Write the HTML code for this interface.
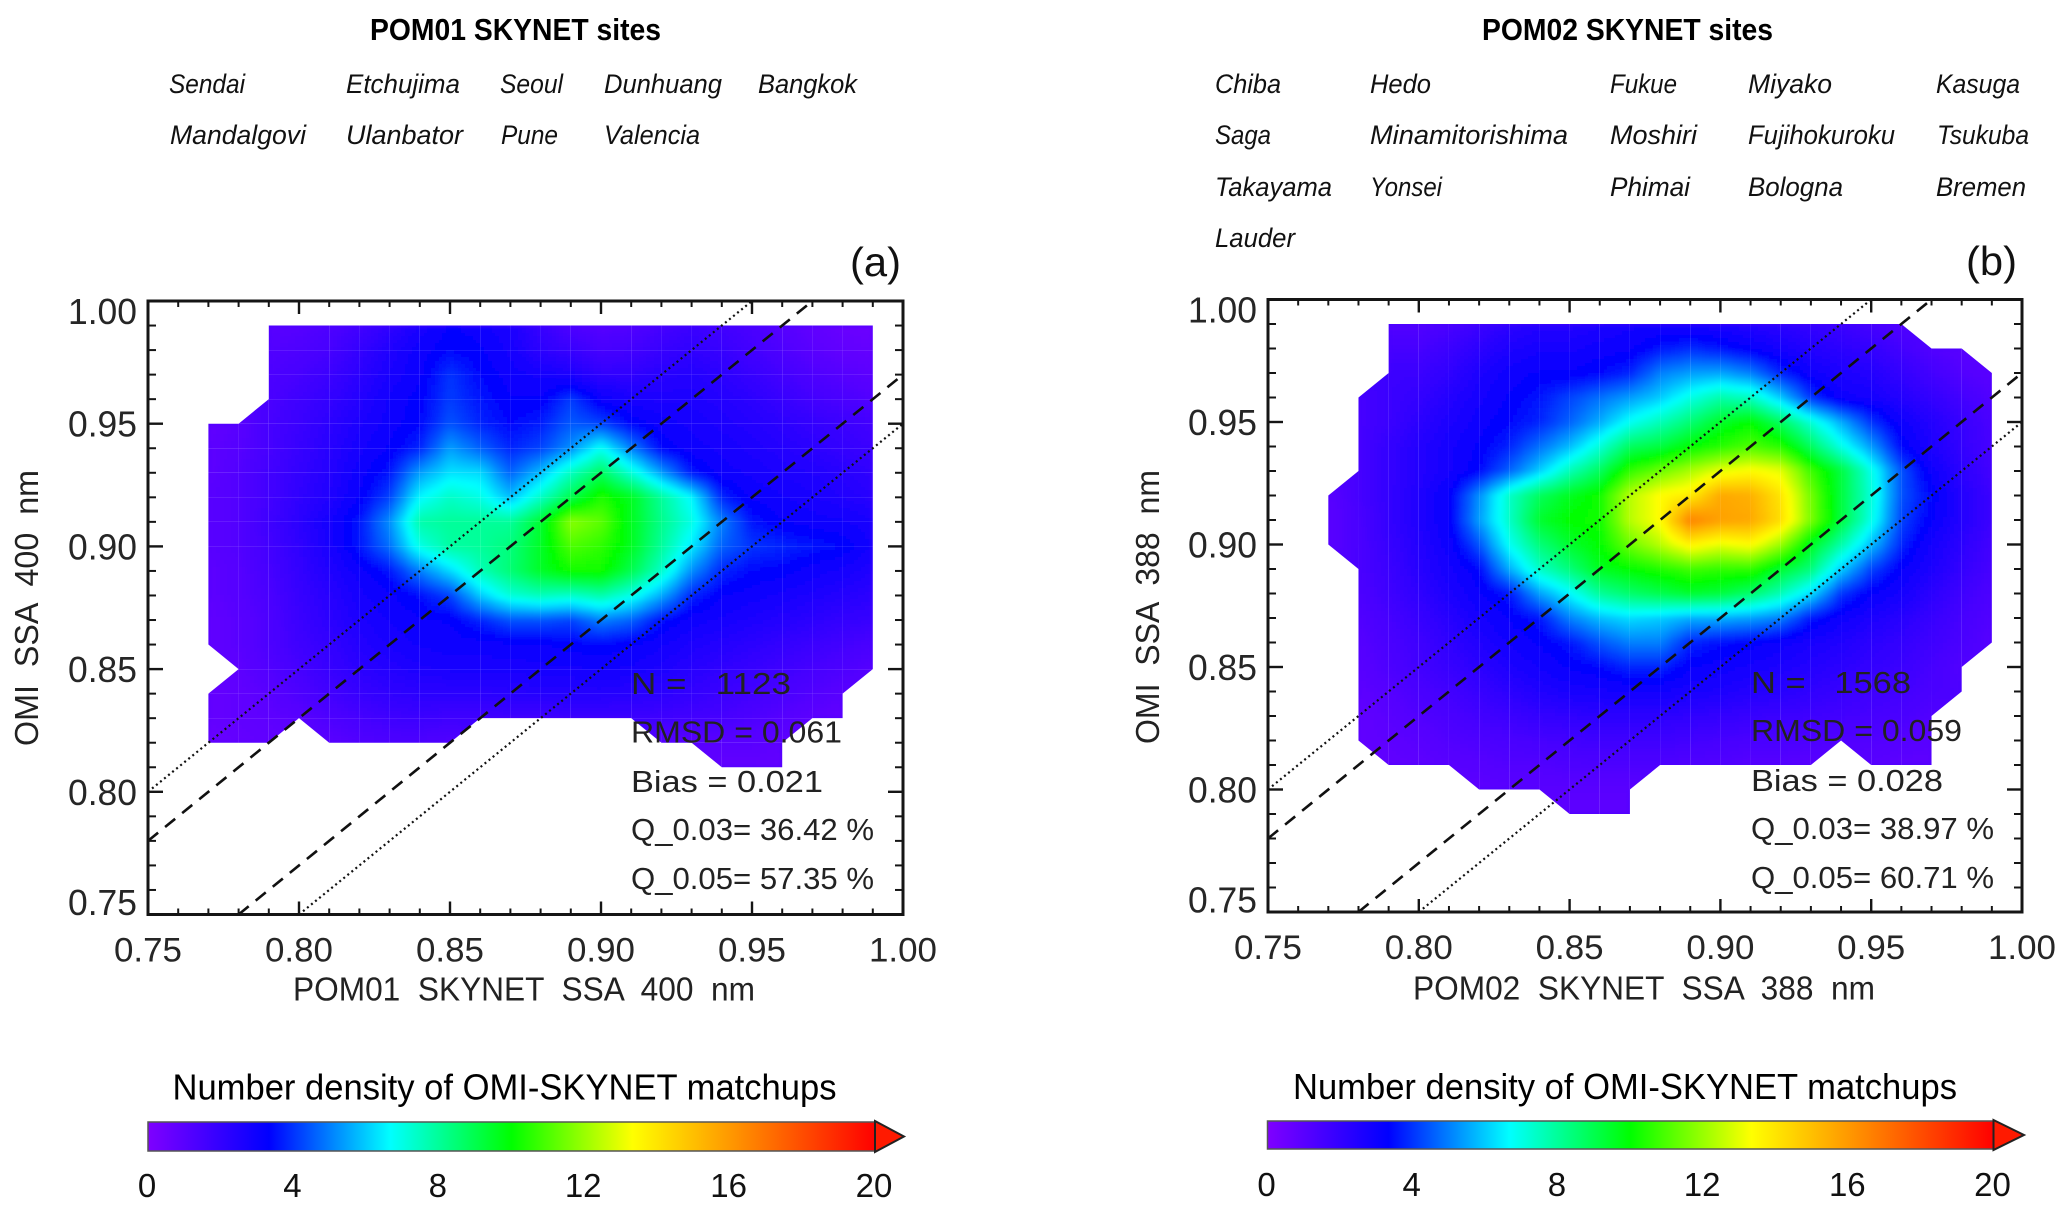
<!DOCTYPE html>
<html lang="en">
<head>
<meta charset="utf-8">
<title>POM01 and POM02 SKYNET vs OMI SSA</title>
<style>
html,body{margin:0;padding:0;background:#fff;}
svg{display:block;}
text{font-family:"Liberation Sans",sans-serif;fill:#262626;white-space:pre;}
.site{font-style:italic;font-size:27px;fill:#111;}
.head{font-weight:bold;font-size:31px;fill:#000;}
.ann{font-size:31px;fill:#222;}
.axt{font-size:33px;fill:#222;}
.cbt{font-size:36px;fill:#000;}
.cbl{font-size:33px;fill:#111;}
.pl{font-size:41px;fill:#111;}
</style>
</head>
<body>
<svg id="figure" xmlns="http://www.w3.org/2000/svg" width="2067" height="1213" viewBox="0 0 2067 1213">
<rect x="0" y="0" width="2067" height="1213" fill="#fff"/>
<defs>
<filter id="soft" filterUnits="userSpaceOnUse" x="0" y="250" width="2067" height="720"><feGaussianBlur stdDeviation="2"/></filter>
<linearGradient id="cbgrad" x1="0" y1="0" x2="1" y2="0"></linearGradient>
</defs>

<g id="panel-a"></g>
<g id="panel-b"></g>

<text class="head" x="370" y="40" textLength="291" lengthAdjust="spacingAndGlyphs">POM01 SKYNET sites</text>
<g>
<text class="site" x="169" y="93" textLength="76" lengthAdjust="spacingAndGlyphs">Sendai</text>
<text class="site" x="346" y="93" textLength="114" lengthAdjust="spacingAndGlyphs">Etchujima</text>
<text class="site" x="500" y="93" textLength="63" lengthAdjust="spacingAndGlyphs">Seoul</text>
<text class="site" x="604" y="93" textLength="118" lengthAdjust="spacingAndGlyphs">Dunhuang</text>
<text class="site" x="758" y="93" textLength="99" lengthAdjust="spacingAndGlyphs">Bangkok</text>
<text class="site" x="170" y="144" textLength="136" lengthAdjust="spacingAndGlyphs">Mandalgovi</text>
<text class="site" x="346" y="144" textLength="117" lengthAdjust="spacingAndGlyphs">Ulanbator</text>
<text class="site" x="501" y="144" textLength="57" lengthAdjust="spacingAndGlyphs">Pune</text>
<text class="site" x="604" y="144" textLength="96" lengthAdjust="spacingAndGlyphs">Valencia</text>
</g>
<text class="pl" x="850" y="276" textLength="51" lengthAdjust="spacingAndGlyphs">(a)</text>

<text class="head" x="1482" y="40" textLength="291" lengthAdjust="spacingAndGlyphs">POM02 SKYNET sites</text>
<g>
<text class="site" x="1215" y="93" textLength="66" lengthAdjust="spacingAndGlyphs">Chiba</text>
<text class="site" x="1370" y="93" textLength="61" lengthAdjust="spacingAndGlyphs">Hedo</text>
<text class="site" x="1610" y="93" textLength="67" lengthAdjust="spacingAndGlyphs">Fukue</text>
<text class="site" x="1748" y="93" textLength="84" lengthAdjust="spacingAndGlyphs">Miyako</text>
<text class="site" x="1936" y="93" textLength="84" lengthAdjust="spacingAndGlyphs">Kasuga</text>
<text class="site" x="1215" y="144" textLength="56" lengthAdjust="spacingAndGlyphs">Saga</text>
<text class="site" x="1370" y="144" textLength="198" lengthAdjust="spacingAndGlyphs">Minamitorishima</text>
<text class="site" x="1610" y="144" textLength="87" lengthAdjust="spacingAndGlyphs">Moshiri</text>
<text class="site" x="1748" y="144" textLength="147" lengthAdjust="spacingAndGlyphs">Fujihokuroku</text>
<text class="site" x="1937" y="144" textLength="92" lengthAdjust="spacingAndGlyphs">Tsukuba</text>
<text class="site" x="1215" y="196" textLength="117" lengthAdjust="spacingAndGlyphs">Takayama</text>
<text class="site" x="1370" y="196" textLength="72" lengthAdjust="spacingAndGlyphs">Yonsei</text>
<text class="site" x="1610" y="196" textLength="80" lengthAdjust="spacingAndGlyphs">Phimai</text>
<text class="site" x="1748" y="196" textLength="95" lengthAdjust="spacingAndGlyphs">Bologna</text>
<text class="site" x="1936" y="196" textLength="90" lengthAdjust="spacingAndGlyphs">Bremen</text>
<text class="site" x="1215" y="247" textLength="80" lengthAdjust="spacingAndGlyphs">Lauder</text>
</g>
<text class="pl" x="1966" y="275" textLength="51" lengthAdjust="spacingAndGlyphs">(b)</text>

<text class="axt" x="293" y="1000.5" textLength="462" lengthAdjust="spacingAndGlyphs">POM01  SKYNET  SSA  400  nm</text>
<text class="axt" transform="translate(38,746) rotate(-90)" x="0" y="0" textLength="276" lengthAdjust="spacingAndGlyphs" style="font-size:33px">OMI  SSA  400  nm</text>
<text class="axt" x="1413" y="999.5" textLength="462" lengthAdjust="spacingAndGlyphs">POM02  SKYNET  SSA  388  nm</text>
<text class="axt" transform="translate(1159,744) rotate(-90)" x="0" y="0" textLength="274" lengthAdjust="spacingAndGlyphs" style="font-size:33px">OMI  SSA  388  nm</text>

<g>
<text class="ann" x="631" y="694" textLength="160" lengthAdjust="spacingAndGlyphs">N =   1123</text>
<text class="ann" x="631" y="742.5" textLength="211" lengthAdjust="spacingAndGlyphs">RMSD = 0.061</text>
<text class="ann" x="631" y="792" textLength="192" lengthAdjust="spacingAndGlyphs">Bias = 0.021</text>
<text class="ann" x="631" y="840" textLength="243" lengthAdjust="spacingAndGlyphs">Q_0.03= 36.42 %</text>
<text class="ann" x="631" y="889" textLength="243" lengthAdjust="spacingAndGlyphs">Q_0.05= 57.35 %</text>
</g>
<g>
<text class="ann" x="1751" y="693" textLength="160" lengthAdjust="spacingAndGlyphs">N =   1568</text>
<text class="ann" x="1751" y="741" textLength="211" lengthAdjust="spacingAndGlyphs">RMSD = 0.059</text>
<text class="ann" x="1751" y="791" textLength="192" lengthAdjust="spacingAndGlyphs">Bias = 0.028</text>
<text class="ann" x="1751" y="839" textLength="243" lengthAdjust="spacingAndGlyphs">Q_0.03= 38.97 %</text>
<text class="ann" x="1751" y="888" textLength="243" lengthAdjust="spacingAndGlyphs">Q_0.05= 60.71 %</text>
</g>

<text class="cbt" x="172.5" y="1099.5" textLength="664" lengthAdjust="spacingAndGlyphs">Number density of OMI-SKYNET matchups</text>
<text class="cbt" x="1293" y="1099" textLength="664" lengthAdjust="spacingAndGlyphs">Number density of OMI-SKYNET matchups</text>
<g id="colorbar-a"></g>
<g id="colorbar-b"></g>
</svg>

<script>
const n = null;
const gridX = [0.77,0.78,0.79,0.80,0.81,0.82,0.83,0.84,0.85,0.86,0.87,0.88,0.89,0.90,0.91,0.92,0.93,0.94,0.95,0.96,0.97,0.98,0.99];
const gridYA = [0.99,0.98,0.97,0.96,0.95,0.94,0.93,0.92,0.91,0.90,0.89,0.88,0.87,0.86,0.85,0.84,0.83,0.82,0.81];
const gridYB = [0.99,0.98,0.97,0.96,0.95,0.94,0.93,0.92,0.91,0.90,0.89,0.88,0.87,0.86,0.85,0.84,0.83,0.82,0.81,0.80,0.79];
const densityA = [
[n,n,1,1.1,1.3,1.6,2.1,2.7,3.2,3,2.6,1.9,1.3,1.1,1.2,1.5,1.8,1.6,1.4,1.1,.8,.6,.5],
[n,n,1.2,1.3,1.5,2,2.5,3,3.4,3.2,2.8,2.2,1.9,1.5,1.6,1.9,2.1,1.9,1.6,1.3,1,.8,.7],
[n,n,1.3,1.5,1.8,2.2,2.7,3.1,4,3.4,3,2.8,2.6,2.1,2.1,2.3,2.4,2.2,1.9,1.6,1.3,1.1,.9],
[n,n,1.4,1.7,2,2.4,2.9,3.3,4.1,3.6,3.2,3.2,4.1,3.1,2.7,2.6,2.6,2.4,2.2,1.9,1.6,1.4,1.2],
[.8,1,1.5,1.8,2.2,2.6,3,3.4,4.4,3.8,3.4,3.7,4.5,4.2,3.4,3,2.8,2.6,2.4,2.2,2,1.8,1.6],
[.9,1.1,1.5,1.9,2.3,2.8,3.2,3.8,5.4,4.6,3.8,4.2,5.2,6.8,5,3.4,3,2.8,2.6,2.4,2.2,2,1.8],
[.9,1.2,1.6,2,2.4,3,3.6,5.4,6.3,6.2,4.6,5.8,7.5,8.8,7.2,5.4,3.6,3,2.8,2.6,2.5,2.3,2.1],
[1,1.2,1.6,2.1,2.5,3.2,4.2,6.6,7.4,7,5.8,7.4,9,10.4,9.6,8,6.6,3.8,3.1,2.9,2.7,2.5,2.3],
[1,1.2,1.7,2.2,2.8,3.6,5.2,7.8,8,8,8,9.4,11.8,11.2,9.6,8.2,7,5,3.6,3.2,3,2.9,2.7],
[1,1.2,1.6,2.1,2.7,3.6,4.8,7,7.9,8,8.4,9.5,11,10.6,9.6,8,6.4,4.6,4,3.8,3.6,3.4,2.8],
[.9,1.1,1.5,2,2.5,3,3.6,5,6.2,7.6,8.5,9.5,10.2,10.2,9,7.4,5.2,3.8,3.4,3.3,3,2.8,2.5],
[.9,1.1,1.4,1.9,2.3,2.8,3.1,3.5,4.2,6,7.2,7.6,7.4,7.8,7,5.6,3.8,3.2,3,2.8,2.6,2.4,2.2],
[.8,1,1.3,1.8,2.2,2.6,2.9,3.1,3.2,3.8,4.4,4.4,4.2,5,4.6,3.5,3,2.8,2.6,2.4,2.2,2,1.9],
[.8,1,1.3,1.7,2,2.4,2.7,2.9,3,3,3.1,3.1,3.3,3.4,3.2,2.9,2.6,2.4,2.2,2,1.8,1.6,1.4],
[n,.9,1.2,1.5,1.9,2.2,2.4,2.6,2.7,2.7,2.7,2.8,2.8,2.9,2.8,2.6,2.3,2.1,1.9,1.7,1.5,1.3,1.1],
[.7,.8,1,1.3,1.6,1.9,2.1,2.2,2.2,2.2,2.3,2.4,2.4,2.4,2.3,2.2,2,1.8,1.6,1.4,1.2,1,n],
[.7,.8,.9,1,1.3,1.5,1.7,1.8,1.7,1.7,1.7,1.7,1.8,1.8,1.8,1.7,1.6,1.5,1.3,1.1,.9,.8,n],
[.6,.7,.8,n,1,1.2,1.3,1.3,1.2,n,n,n,n,n,n,1,1,1,1,.9,n,n,n],
[n,n,n,n,n,n,n,n,n,n,n,n,n,n,n,n,n,.8,.8,.7,n,n,n]
];
const densityB = [
[n,n,1.2,1.2,1.4,1.8,2.2,2.4,2.4,2.6,2.8,2.8,2.7,2.6,2.4,2.2,2,1.8,1.5,1.2,n,n,n],
[n,n,1.5,1.5,1.8,2.2,2.6,2.8,2.8,3,3.1,3.6,3.9,3.6,3.2,2.8,2.4,2.2,2,1.6,1.2,1,n],
[n,n,1.8,1.8,2.1,2.6,3,3.2,3.2,3.4,3.8,5,5.4,5.5,5,3.8,3,2.6,2.4,2,1.6,1.2,1],
[n,1.5,1.8,2,2.4,2.8,3.2,3.6,4.2,4.8,5.4,6,7,7.8,7.5,6,4,3,2.8,2.4,2,1.6,1.2],
[n,1.5,1.8,2.2,2.6,3,3.4,3.8,4.6,5.6,6.8,7.6,8.5,9.5,10,8.8,7.2,5.6,4,3,2.4,1.9,1.4],
[n,1.5,2,2.4,2.8,3.2,3.8,4.8,5.8,7.2,8.8,9.2,10,10.5,11,10.5,8.8,7,5.4,3.4,2.6,2,1.5],
[n,1.5,2,2.4,2.8,3.4,4.6,6,7.6,8.8,10.6,11.4,12.2,13,13.4,13,10.8,9.2,7,4.4,3,2.2,1.6],
[1,1.5,2,2.5,3.2,5.2,7.4,8.8,9.6,10.2,12.4,13.4,13.8,15.6,15.4,14,11.5,9.2,7.2,4.4,3.4,2.4,1.8],
[1,1.4,2,2.5,3.2,5.4,7.4,9.4,10,10.2,12.4,13.4,16.6,15.8,15.6,14.2,11.6,9.2,7,4.2,3.2,2.4,1.8],
[1,1.4,1.9,2.4,3,4.4,6.8,8.4,9.4,10,11.4,12.4,13.6,13,13.4,12,9.6,7.8,5.8,3.8,2.8,2.2,1.6],
[n,1.4,1.8,2.3,2.8,3.4,5.6,7.4,8.4,9.6,10,10.4,10.8,10.6,10.6,9.4,8.4,6,4.2,3.2,2.6,2,1.5],
[n,1.3,1.7,2.1,2.6,3.1,3.6,5.4,6.6,8,8.6,9,9.4,9.2,8.6,7.6,6.2,4,3.2,2.8,2.2,1.7,1.3],
[n,1.2,1.5,1.9,2.3,2.8,3.2,3.6,5,5.8,6.2,6,5.6,5.6,5.4,5,3.6,3,2.6,2.3,1.9,1.5,1.2],
[n,1.1,1.4,1.7,2.1,2.5,2.9,3.2,3.6,4.4,5,5,3.8,3.5,3.3,3,2.7,2.5,2.2,2,1.7,1.4,1.1],
[n,1,1.3,1.6,1.9,2.2,2.6,2.9,3.2,3.4,3.8,3.8,3.2,3,2.8,2.6,2.4,2.2,2,1.8,1.5,1.2,n],
[n,.9,1.1,1.4,1.6,1.9,2.2,2.5,2.7,2.8,2.9,2.9,2.7,2.6,2.4,2.3,2.1,1.9,1.7,1.6,1.4,1.3,n],
[n,.8,1,1.2,1.4,1.6,1.8,2,2.1,2.2,2.2,2.2,2.1,2,1.9,1.8,1.7,1.6,1.5,1.4,1.2,n,n],
[n,.8,.9,1,1.2,1.3,1.4,1.5,1.6,1.7,1.7,1.7,1.6,1.5,1.4,1.4,1.3,1.2,1.2,1.1,1,n,n],
[n,n,.8,.9,1,1.1,1.2,1.2,1.3,1.3,1.3,1.3,1.2,1.2,1.1,1.1,1,n,1,.9,.9,n,n],
[n,n,n,n,n,.9,1,1,1,1,1,n,n,n,n,n,n,n,n,n,n,n,n],
[n,n,n,n,n,n,n,n,.9,.9,.9,n,n,n,n,n,n,n,n,n,n,n,n]
];
const axisTicks = [0.75,0.80,0.85,0.90,0.95,1.00];
const axisTickLabels = ["0.75","0.80","0.85","0.90","0.95","1.00"];
const minorTicks = [0.76,0.77,0.78,0.79,0.81,0.82,0.83,0.84,0.86,0.87,0.88,0.89,0.91,0.92,0.93,0.94,0.96,0.97,0.98,0.99];
const envelopeDotted = [0.05,-0.05];
const envelopeDashed = [0.03,-0.03];
const colorTicks = [0,4,8,12,16,20];
const colorTickLabels = ["0","4","8","12","16","20"];
const colorStopValues = [0,3.33,6.67,10,13.33,20];
const colorStopRGB = [[127,0,255],[0,0,255],[0,255,255],[0,255,0],[255,255,0],[255,0,0]];

const SVGNS = "http://www.w3.org/2000/svg";
function mk(tag, parent, attrs){
  const el = document.createElementNS(SVGNS, tag);
  for(const k in attrs){ el.setAttribute(k, attrs[k]); }
  parent.appendChild(el);
  return el;
}
function colorOf(v){
  const vs = colorStopValues, cs = colorStopRGB;
  if(v <= vs[0]) return "rgb("+cs[0].join(",")+")";
  for(let i=1;i<vs.length;i++){
    if(v <= vs[i]){
      const t = (v-vs[i-1])/(vs[i]-vs[i-1]);
      const c = [0,1,2].map(function(k){return Math.round(cs[i-1][k]+t*(cs[i][k]-cs[i-1][k]));});
      return "rgb("+c.join(",")+")";
    }
  }
  return "rgb("+cs[cs.length-1].join(",")+")";
}

function drawPanel(cfg){
  const root = document.getElementById(cfg.id);
  const sx = function(v){ return cfg.left + (v-0.75)/0.25*(cfg.right-cfg.left); };
  const sy = function(v){ return cfg.bottom - (v-0.75)/0.25*(cfg.bottom-cfg.top); };

  // Heatmap
  const clipId = cfg.id + "-clip";
  const svg = document.getElementById("figure");
  const clip = mk("clipPath", svg.querySelector("defs"), {id: clipId});
  const heat = mk("g", root, {"clip-path":"url(#"+clipId+")"});
  
  
  const back = mk("rect", heat, {x:cfg.left, y:cfg.top, width:cfg.right-cfg.left, height:cfg.bottom-cfg.top, fill:"#4a00ff"});
  
  
  const soft = mk("g", heat, {filter:"url(#soft)", "shape-rendering":"crispEdges"});
  
  
  const ys = cfg.ys, vals = cfg.values;
  for(let r=0;r<ys.length-1;r++){
    for(let c=0;c<gridX.length-1;c++){
      const tl = vals[r][c], tr = vals[r][c+1], bl = vals[r+1][c], br = vals[r+1][c+1];
      const corners = [tl,tr,br,bl];
      const valid = corners.filter(function(v){return v!==null;});
      if(valid.length < 3) continue;
      const xL = sx(gridX[c]), xR = sx(gridX[c+1]), yT = sy(ys[r]), yB = sy(ys[r+1]);
      const pts = [[xL,yT],[xR,yT],[xR,yB],[xL,yB]].filter(function(p,i){return corners[i]!==null;});
      mk("polygon", clip, {points: pts.map(function(p){return p[0].toFixed(2)+","+p[1].toFixed(2);}).join(" ")});
      const mean = valid.reduce(function(a,b){return a+b;},0)/valid.length;
      const a = tl===null?mean:tl, b = tr===null?mean:tr, d = bl===null?mean:bl, e = br===null?mean:br;
      const nx = Math.ceil((xR-xL)/4), ny = Math.ceil((yB-yT)/4);
      for(let i=0;i<nx;i++){
        for(let j=0;j<ny;j++){
          const u=(i+0.5)/nx, w=(j+0.5)/ny;
          const val = (1-u)*(1-w)*a + u*(1-w)*b + (1-u)*w*d + u*w*e;
          const x1=Math.round(xL+(xR-xL)*i/nx), x2=Math.round(xL+(xR-xL)*(i+1)/nx);
          const y1=Math.round(yT+(yB-yT)*j/ny), y2=Math.round(yT+(yB-yT)*(j+1)/ny);
          const cell = mk("rect", soft, {x:x1, y:y1, width:x2-x1, height:y2-y1, fill:colorOf(val)});
          
          
        }
      }
    }
  }

  // Envelope lines
  const lineClip = cfg.id + "-lineclip";
  const lc = mk("clipPath", svg.querySelector("defs"), {id: lineClip});
  mk("rect", lc, {x:cfg.left, y:cfg.top, width:cfg.right-cfg.left, height:cfg.bottom-cfg.top});
  const lines = mk("g", root, {"clip-path":"url(#"+lineClip+")"});
  
  
  function envelope(off, dash, width, name){
    const x0 = Math.max(0.75, 0.75-off), x1 = Math.min(1, 1-off);
    const l = mk("line", lines, {x1:sx(x0), y1:sy(x0+off), x2:sx(x1), y2:sy(x1+off), stroke:"#111", "stroke-width":width, "stroke-dasharray":dash});
    
    
  }
  envelopeDotted.forEach(function(o){ envelope(o, "2 3.2", 2.2, 'envelope-dotted-line'); });
  envelopeDashed.forEach(function(o){ envelope(o, "13 9", 2.6, 'envelope-dashed-line'); });

  // Axes
  const axes = mk("g", root, {stroke:"#151515", fill:"none"});
  
  
  const frame = mk("rect", axes, {x:cfg.left, y:cfg.top, width:cfg.right-cfg.left, height:cfg.bottom-cfg.top, "stroke-width":3});
  
  
  function tick(x1,y1,x2,y2,w){
    const t = mk("line", axes, {x1:x1,y1:y1,x2:x2,y2:y2,"stroke-width":w});
    
    
  }
  axisTicks.forEach(function(v){
    tick(sx(v),cfg.bottom,sx(v),cfg.bottom-13,2.4);
    tick(sx(v),cfg.top,sx(v),cfg.top+13,2.4);
    tick(cfg.left,sy(v),cfg.left+15,sy(v),2.4);
    tick(cfg.right,sy(v),cfg.right-15,sy(v),2.4);
  });
  minorTicks.forEach(function(v){
    tick(sx(v),cfg.bottom,sx(v),cfg.bottom-6,2);
    tick(sx(v),cfg.top,sx(v),cfg.top+6,2);
    tick(cfg.left,sy(v),cfg.left+8,sy(v),2);
    tick(cfg.right,sy(v),cfg.right-8,sy(v),2);
  });

  // Tick labels
  axisTicks.forEach(function(v,i){
    const tx = mk("text", root, {x:sx(v), y:cfg.bottom+47, "text-anchor":"middle", "font-size":34, textLength:68, lengthAdjust:"spacingAndGlyphs"});
    tx.textContent = axisTickLabels[i];
    
    
    const base = Math.max(cfg.top+23, Math.min(cfg.bottom+0.5, sy(v)+13));
    const ty = mk("text", root, {x:cfg.left-11, y:base, "text-anchor":"end", "font-size":36, textLength:69, lengthAdjust:"spacingAndGlyphs"});
    ty.textContent = axisTickLabels[i];
    
    
  });
}

function drawColorbar(cfg){
  const root = document.getElementById(cfg.id);
  const s = function(v){ return cfg.x0 + v/20*(cfg.x1-cfg.x0); };
  const bar = mk("rect", root, {x:cfg.x0, y:cfg.y0, width:cfg.x1-cfg.x0, height:cfg.y1-cfg.y0, fill:"url(#cbgrad)", stroke:"#555", "stroke-width":1.5});
  
  
  const tip = mk("polygon", root, {points:cfg.x1+","+(cfg.y0-1)+" "+cfg.tip+","+((cfg.y0+cfg.y1)/2)+" "+cfg.x1+","+(cfg.y1+1), fill:"#ff1a00", stroke:"#222", "stroke-width":2});
  
  
  colorTicks.forEach(function(v,i){
    const t = mk("text", root, {"class":"cbl", x:s(v)-1, y:cfg.base, "text-anchor":"middle"});
    t.textContent = colorTickLabels[i];
    
    
  });
}

(function(){
  const g = document.getElementById("cbgrad");
  colorStopValues.forEach(function(v,i){
    mk("stop", g, {offset:(v/20*100)+"%", "stop-color":"rgb("+colorStopRGB[i].join(",")+")"});
  });
})();

drawPanel({id:"panel-a", left:148, right:903, top:301, bottom:914.5, ys:gridYA, values:densityA});
drawPanel({id:"panel-b", left:1268, right:2022, top:299.5, bottom:912, ys:gridYB, values:densityB});
drawColorbar({id:"colorbar-a", x0:148, x1:875, y0:1122, y1:1151, tip:904, base:1197});
drawColorbar({id:"colorbar-b", x0:1267.5, x1:1993.5, y0:1121, y1:1149, tip:2024, base:1196});
</script>
</body>
</html>
